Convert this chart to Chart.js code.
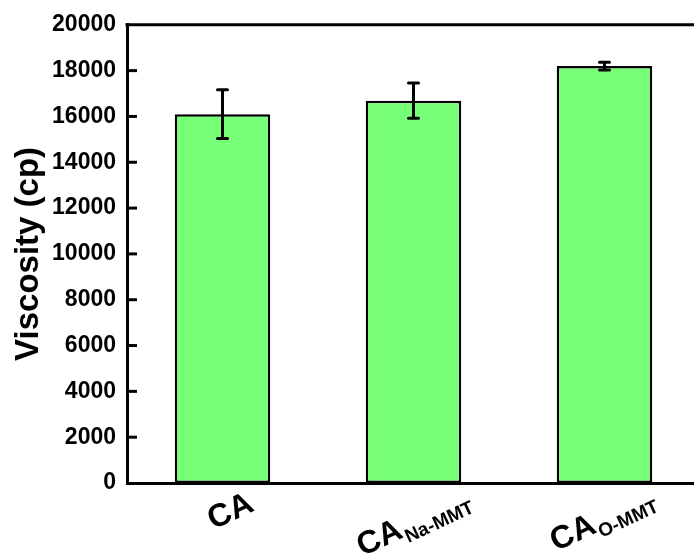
<!DOCTYPE html>
<html>
<head>
<meta charset="utf-8">
<script src="https://cdn.jsdelivr.net/npm/chart.js@4.4.1/dist/chart.umd.min.js"></script>
<style>
  html, body { margin: 0; padding: 0; background: #fff; overflow: hidden; }
  #wrap { position: relative; width: 710px; height: 558px; }
</style>
</head>
<body>
<div id="wrap"><canvas id="c"></canvas></div>
<script>
// Samples: main name and subscript
const sampleNames = ['CA', 'CA', 'CA'];
const sampleSubs = ['', 'Na-MMT', 'O-MMT'];
// Viscosity (cp), mean and standard deviation
const viscosity = [16100, 16690, 18200];
const viscosityErr = [1060, 770, 170];
// Y axis range
const yMin = 0;
const yMax = 20000;
const yStep = 2000;

const FONT = '"Liberation Sans", Arial, sans-serif';

// Error bars, inward ticks, top frame line and rotated labels with subscripts
const decorPlugin = {
  id: 'decor',
  afterDatasetsDraw(chart) {
    const { ctx } = chart;
    const xs = chart.scales.x;
    const ys = chart.scales.y;
    ctx.save();
    ctx.strokeStyle = '#000';
    ctx.lineCap = 'round';
    ctx.lineWidth = 3;
    viscosity.forEach((v, i) => {
      const x = xs.getPixelForValue(i);
      const yTop = ys.getPixelForValue(v + viscosityErr[i]);
      const yBot = ys.getPixelForValue(v - viscosityErr[i]);
      ctx.beginPath();
      ctx.moveTo(x, yTop); ctx.lineTo(x, yBot);
      ctx.moveTo(x - 5, yTop); ctx.lineTo(x + 5, yTop);
      ctx.moveTo(x - 5, yBot); ctx.lineTo(x + 5, yBot);
      ctx.stroke();
    });
    ctx.restore();
  },
  afterDraw(chart) {
    const { ctx, chartArea } = chart;
    const xs = chart.scales.x;
    const ys = chart.scales.y;
    ctx.save();
    ctx.strokeStyle = '#000';
    ctx.lineWidth = 3;
    ctx.lineCap = 'butt';
    // top frame line
    ctx.beginPath();
    ctx.moveTo(chartArea.left - 1.5, chartArea.top);
    ctx.lineTo(chartArea.right + 20, chartArea.top);
    ctx.stroke();
    // inward ticks on the y axis
    ys.ticks.forEach((t) => {
      const y = ys.getPixelForValue(t.value);
      if (t.value === yMin || t.value === yMax) return;
      ctx.beginPath();
      ctx.moveTo(chartArea.left, y);
      ctx.lineTo(chartArea.left + 10, y);
      ctx.stroke();
    });
    // category labels, rotated, with subscripts
    const angle = -25 * Math.PI / 180;
    const mainFont = 'bold 32px ' + FONT;
    const subFont = 'bold 19px ' + FONT;
    const nudge = [[12, 37], [4, 48], [2, 45]];
    sampleNames.forEach((name, i) => {
      const x = xs.getPixelForValue(i) + nudge[i][0];
      const y = chartArea.bottom + nudge[i][1];
      ctx.font = mainFont;
      const wMain = ctx.measureText(name).width;
      ctx.font = subFont;
      const wSub = sampleSubs[i] ? ctx.measureText(sampleSubs[i]).width + 1 : 0;
      const total = wMain + wSub;
      ctx.save();
      ctx.translate(x, y);
      ctx.rotate(angle);
      ctx.fillStyle = '#000';
      ctx.textBaseline = 'alphabetic';
      ctx.textAlign = 'left';
      ctx.font = mainFont;
      ctx.fillText(name, -total / 2, 0);
      if (sampleSubs[i]) {
        ctx.font = subFont;
        ctx.fillText(sampleSubs[i], -total / 2 + wMain + 1, 7);
      }
      ctx.restore();
    });
    ctx.restore();
  }
};

new Chart(document.getElementById('c'), {
  type: 'bar',
  data: {
    labels: sampleNames.map((n, i) => n + sampleSubs[i]),
    datasets: [{
      data: viscosity,
      backgroundColor: '#77ff77',
      borderColor: '#000',
      borderWidth: 2.5,
      borderSkipped: false,
      barPercentage: 0.5,
      categoryPercentage: 1.0
    }]
  },
  options: {
    responsive: true,
    maintainAspectRatio: false,
    animation: false,
    layout: { padding: { top: 22, right: 10, bottom: 75, left: 0 } },
    plugins: { legend: { display: false }, tooltip: { enabled: false } },
    scales: {
      x: {
        grid: { display: false, drawTicks: false },
        border: { display: true, color: '#000', width: 3 },
        ticks: { display: false },
        afterFit(scale) { scale.height = 0; }
      },
      y: {
        min: yMin,
        max: yMax,
        grid: { display: false, drawTicks: false },
        border: { display: true, color: '#000', width: 3 },
        ticks: {
          stepSize: yStep,
          color: '#000',
          padding: 11,
          font: { family: FONT, size: 23, weight: 'bold' },
          callback: (v) => String(v)
        },
        title: {
          display: true,
          text: 'Viscosity (cp)',
          color: '#000',
          padding: { top: 9, bottom: 0 },
          font: { family: FONT, size: 33, weight: 'bold' }
        },
        afterFit(scale) { scale.width = 127; }
      }
    }
  },
  plugins: [decorPlugin]
});
</script>
</body>
</html>
